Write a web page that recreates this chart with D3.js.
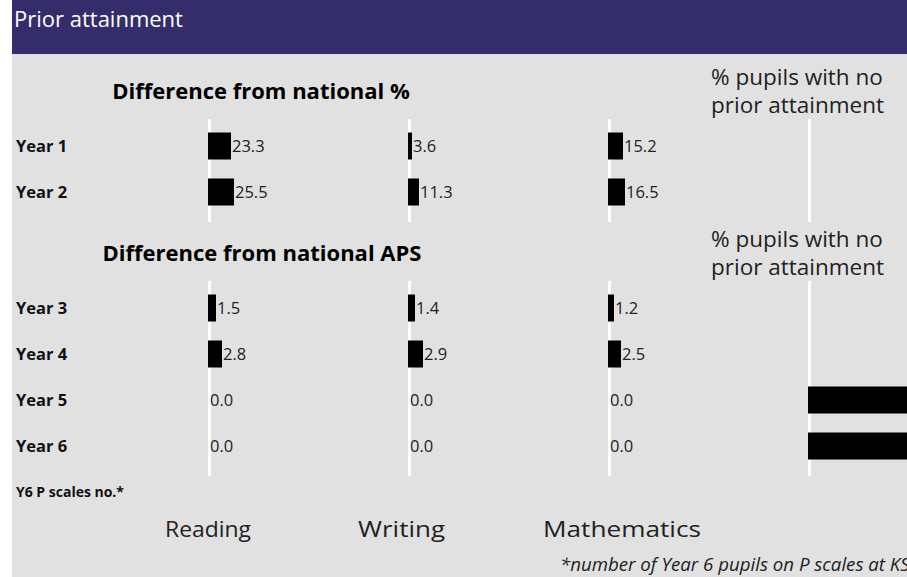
<!DOCTYPE html>
<html><head><meta charset="utf-8">
<script src="https://cdn.jsdelivr.net/npm/d3@7"></script>
<style>
html,body{margin:0;padding:0;background:#fff;overflow:hidden}
svg{display:block;font-family:"Open Sans",sans-serif}
</style></head>
<body>
<script>
// ---- data ----
const subjects = ["Reading", "Writing", "Mathematics"];
const pctYears = ["Year 1", "Year 2"];
const pctReading = [23.3, 25.5];
const pctWriting = [3.6, 11.3];
const pctMaths = [15.2, 16.5];
const pctNoPrior1 = [null, null];
const apsYears = ["Year 3", "Year 4", "Year 5", "Year 6"];
const apsReading = [1.5, 2.8, 0.0, 0.0];
const apsWriting = [1.4, 2.9, 0.0, 0.0];
const apsMaths = [1.2, 2.5, 0.0, 0.0];
const pctNoPrior2 = [null, null, 100, 100];

const W = 907, H = 577;
const svg = d3.select("body").append("svg").attr("width", W).attr("height", H);

svg.append("rect").attr("x", 12).attr("y", 0).attr("width", W).attr("height", H).attr("fill", "#e1e1e1");
svg.append("rect").attr("x", 12).attr("y", 0).attr("width", W).attr("height", 54).attr("fill", "#352c6c");
svg.append("text").attr("x", 14).attr("y", 27).attr("fill", "#fff").attr("font-size", 22).text("Prior attainment");

const colX = [208, 408, 608, 808];
const rowStep = 46;

function group(cfg) {
  const y = d3.scaleBand().domain(cfg.years).range([cfg.y0, cfg.y0 + cfg.years.length * rowStep])
    .paddingInner(19 / 46).paddingOuter(19 / 92);
  svg.append("text").attr("x", cfg.hx).attr("y", cfg.hy).attr("text-anchor", "middle")
    .attr("font-weight", "bold").attr("font-size", 22).attr("fill", "#000").text(cfg.title);
  const h2 = svg.append("text").attr("x", 711).attr("font-size", 22.5).attr("fill", "#222");
  h2.append("tspan").attr("x", 711).attr("y", cfg.hy - 14).text("% pupils with no");
  h2.append("tspan").attr("x", 711).attr("y", cfg.hy + 14).text("prior attainment");
  svg.selectAll(null).data(cfg.years).enter().append("text")
    .attr("x", 16).attr("y", d => y(d) + y.bandwidth() / 2 + 5.5)
    .attr("font-weight", "bold").attr("font-size", 16.5).attr("fill", "#111").text(d => d);
  colX.forEach(cx => {
    svg.append("rect").attr("x", cx).attr("y", cfg.y0 - 4).attr("width", 3)
      .attr("height", cfg.years.length * rowStep + 11).attr("fill", "#fff");
  });
  const series = [cfg.reading, cfg.writing, cfg.maths];
  series.forEach((vals, i) => {
    const x = d3.scaleLinear().domain([0, cfg.max]).range([colX[i], colX[i] + 200]);
    const data = cfg.years.map((yr, j) => ({ yr, v: vals[j] }));
    svg.selectAll(null).data(data).enter().append("rect")
      .attr("x", x(0)).attr("y", d => y(d.yr)).attr("height", y.bandwidth())
      .attr("width", d => Math.round(x(d.v) - x(0))).attr("fill", "#000");
    svg.selectAll(null).data(data).enter().append("text")
      .attr("x", d => x(0) + Math.round(x(d.v) - x(0)) + (d.v > 0 ? 1 : 2))
      .attr("y", d => y(d.yr) + y.bandwidth() / 2 + 6)
      .attr("font-size", 16.5).attr("fill", "#222").text(d => d3.format(".1f")(d.v));
  });
  const xr = d3.scaleLinear().domain([0, 200]).range([colX[3], colX[3] + 200]);
  const rdata = cfg.years.map((yr, j) => ({ yr, v: cfg.noPrior[j] })).filter(d => d.v != null);
  svg.selectAll(null).data(rdata).enter().append("rect")
    .attr("x", xr(0)).attr("y", d => y(d.yr)).attr("height", y.bandwidth())
    .attr("width", d => xr(d.v) - xr(0)).attr("fill", "#000");
}

group({ years: pctYears, y0: 123, title: "Difference from national %", hx: 261, hy: 99,
  reading: pctReading, writing: pctWriting, maths: pctMaths, noPrior: pctNoPrior1, max: 200 });
group({ years: apsYears, y0: 285, title: "Difference from national APS", hx: 262, hy: 261,
  reading: apsReading, writing: apsWriting, maths: apsMaths, noPrior: pctNoPrior2, max: 40 });

svg.append("text").attr("x", 16).attr("y", 497).attr("font-weight", "bold").attr("font-size", 15)
  .attr("fill", "#111").attr("textLength", 108).attr("lengthAdjust", "spacingAndGlyphs").text("Y6 P scales no.*");

const subjX = [165, 358, 543];
const subjW = [86, 87, 158];
svg.selectAll(null).data(subjects).enter().append("text")
  .attr("x", (d, i) => subjX[i]).attr("y", 537).attr("font-size", 22).attr("fill", "#222")
  .attr("textLength", (d, i) => subjW[i]).attr("lengthAdjust", "spacingAndGlyphs").text(d => d);

svg.append("text").attr("x", 560).attr("y", 571).attr("font-size", 18).attr("font-style", "italic")
  .attr("fill", "#222").attr("textLength", 360).attr("lengthAdjust", "spacingAndGlyphs")
  .text("*number of Year 6 pupils on P scales at KS2");
</script>
</body></html>
